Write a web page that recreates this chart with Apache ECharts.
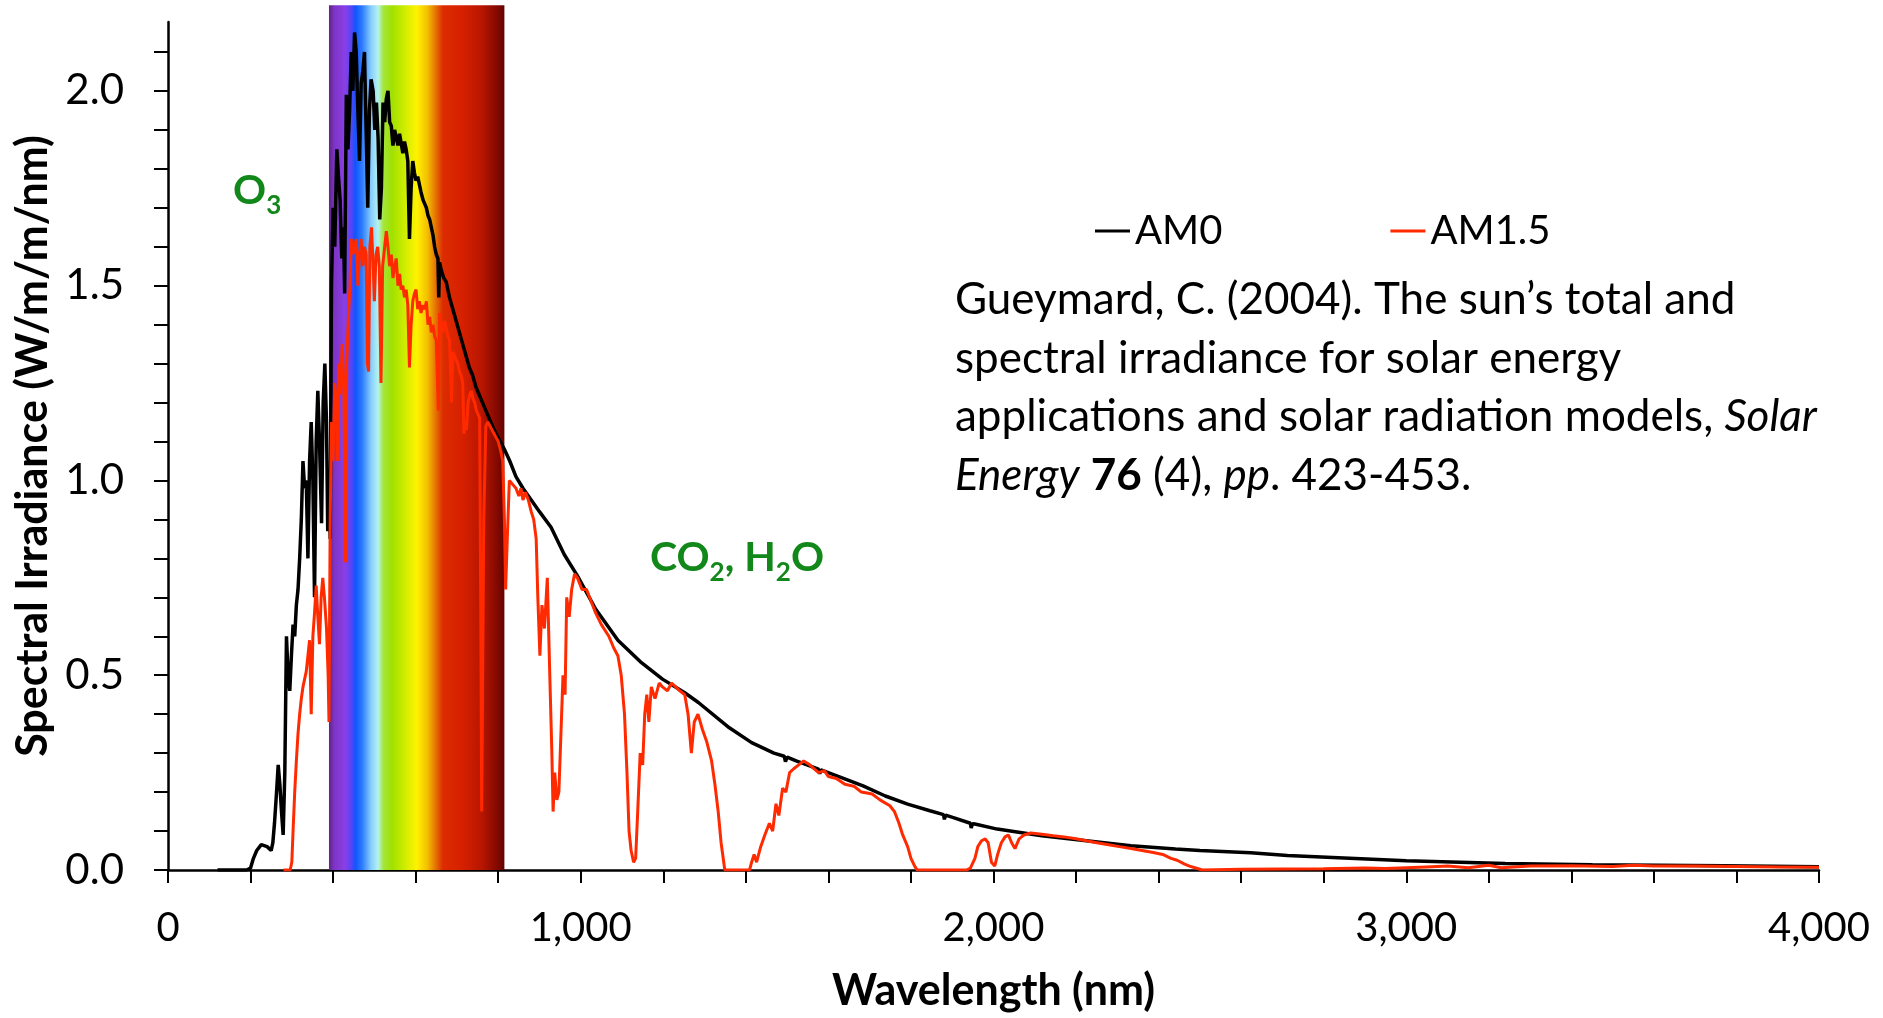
<!DOCTYPE html>
<html>
<head>
<meta charset="utf-8">
<title>Spectral irradiance AM0 / AM1.5</title>
<script src="https://cdn.jsdelivr.net/npm/echarts@6/dist/echarts.min.js"></script>
<style>
  html, body { margin: 0; padding: 0; background: #fff; }
  #chart { width: 1883px; height: 1018px; }
</style>
</head>
<body>
<div id="chart"></div>
<script>
// [wavelength nm, W/m/m/nm]
const am0Spectrum = [
  [120,0],[190,0],[200,0.005],[207,0.03],[215,0.05],[226,0.065],[240,0.06],[250,0.05],
  [254,0.07],[258,0.12],[263,0.2],[267,0.27],[271,0.22],[275,0.15],[279,0.09],[283,0.25],
  [287,0.6],[291,0.5],[295,0.46],[299,0.55],[303,0.63],[307,0.6],[311,0.68],[315,0.72],
  [319,0.8],[323,0.9],[327,1.05],[331,0.98],[335,1.0],[339,0.8],[343,1.05],[347,1.15],
  [351,1.0],[355,0.7],[359,1.1],[363,1.23],[367,1.1],[372,0.89],[376,1.2],[380,1.3],
  [384,1.15],[387,0.87],[390,1.0],[393,0.85],[396,1.5],[400,1.7],[404,1.6],[409,1.85],
  [413,1.78],[417,1.72],[421,1.57],[425,1.65],[428,1.48],[432,1.99],[436,1.85],[440,1.95],
  [444,2.1],[448,2.0],[452,2.15],[456,2.1],[460,1.95],[464,1.82],[468,2.02],[472,2.05],
  [476,2.1],[480,1.9],[484,1.7],[488,1.95],[492,2.03],[497,2.0],[501,1.9],[505,1.97],
  [509,1.88],[513,1.67],[517,1.75],[521,1.97],[525,1.92],[529,1.98],[533,2.0],[537,1.92],
  [541,1.91],[545,1.86],[549,1.9],[553,1.9],[557,1.86],[561,1.89],[565,1.89],[569,1.84],
  [573,1.87],[577,1.85],[581,1.82],[585,1.62],[589,1.75],[593,1.82],[597,1.79],[601,1.77],
  [605,1.78],[609,1.76],[613,1.74],[618,1.72],[622,1.71],[626,1.7],[630,1.68],[634,1.67],
  [638,1.65],[642,1.63],[646,1.6],[650,1.58],[654,1.57],[656,1.47],[658,1.56],[662,1.54],
  [668,1.52],[674,1.51],[682,1.47],[690,1.44],[698,1.41],[706,1.38],[714,1.35],[722,1.32],
  [730,1.29],[738,1.27],[746,1.24],[754,1.22],[762,1.2],[770,1.18],[778,1.16],[786,1.14],
  [795,1.12],[805,1.1],[815,1.08],[828,1.05],[843,1.01],[860,0.98],[880,0.95],[900,0.92],
  [928,0.88],[960,0.81],[992,0.755],[1036,0.67],[1090,0.59],[1144,0.535],[1198,0.49],
  [1252,0.455],[1285,0.43],[1360,0.365],[1414,0.327],[1468,0.3],[1493,0.292],[1496,0.278],
  [1500,0.29],[1522,0.28],[1576,0.259],[1579,0.247],[1582,0.257],[1630,0.238],[1684,0.216],
  [1738,0.19],[1792,0.169],[1846,0.152],[1879,0.142],[1881,0.13],[1884,0.141],[1901,0.135],
  [1944,0.12],[1946,0.108],[1949,0.119],[1955,0.118],[2009,0.105],[2117,0.088],[2225,0.075],
  [2333,0.062],[2441,0.054],[2500,0.05],[2623,0.044],[2712,0.037],[3000,0.024],[3240,0.017],
  [3451,0.0137],[3768,0.011],[4000,0.0085]
];

const am15Spectrum = [
  [280,0],[296,0],[300,0.02],[303,0.1],[307,0.2],[311,0.28],[315,0.35],[319,0.4],
  [323,0.44],[327,0.47],[331,0.49],[335,0.51],[339,0.55],[343,0.59],[347,0.4],[351,0.6],
  [355,0.66],[359,0.73],[363,0.65],[367,0.58],[371,0.7],[375,0.75],[379,0.7],[384,0.62],
  [388,0.5],[390,0.38],[393,0.9],[396,1.15],[400,1.05],[404,1.25],[408,1.2],[411,1.05],
  [414,1.3],[418,1.22],[422,1.35],[426,1.25],[430,0.79],[433,1.3],[437,1.42],[441,1.5],
  [444,1.62],[448,1.58],[452,1.6],[456,1.62],[460,1.5],[464,1.58],[468,1.62],[472,1.55],
  [476,1.6],[480,1.58],[483,1.3],[486,1.28],[489,1.6],[493,1.65],[497,1.55],[500,1.46],
  [504,1.58],[508,1.6],[512,1.55],[516,1.25],[520,1.55],[525,1.6],[529,1.64],[533,1.6],
  [537,1.55],[541,1.58],[545,1.52],[549,1.55],[553,1.57],[557,1.5],[561,1.53],[565,1.49],
  [569,1.5],[573,1.47],[577,1.49],[581,1.45],[585,1.29],[589,1.4],[593,1.46],[597,1.48],
  [601,1.49],[605,1.44],[609,1.46],[613,1.43],[618,1.45],[622,1.44],[626,1.46],[630,1.4],
  [634,1.42],[638,1.38],[642,1.4],[646,1.37],[650,1.36],[655,1.18],[658,1.43],[662,1.4],
  [666,1.38],[670,1.41],[674,1.39],[678,1.37],[682,1.36],[687,1.2],[690,1.33],[694,1.32],
  [698,1.31],[702,1.3],[706,1.28],[710,1.27],[714,1.25],[717,1.12],[720,1.15],[723,1.13],
  [727,1.2],[731,1.22],[735,1.23],[739,1.21],[743,1.2],[747,1.18],[751,1.17],[755,1.16],
  [758,0.6],[760,0.15],[762,0.45],[765,0.9],[770,1.14],[775,1.15],[780,1.14],[785,1.13],
  [790,1.12],[795,1.11],[800,1.1],[805,1.08],[811,1.05],[815,0.9],[818,0.72],[822,0.85],
  [827,1.0],[835,0.99],[843,0.98],[850,0.96],[855,0.98],[860,0.95],[866,0.97],[873,0.95],
  [880,0.92],[886,0.9],[892,0.85],[896,0.7],[901,0.55],[906,0.68],[912,0.62],[919,0.75],
  [925,0.5],[930,0.3],[933,0.15],[937,0.25],[942,0.18],[947,0.2],[952,0.35],[957,0.5],
  [962,0.45],[966,0.7],[972,0.65],[978,0.72],[985,0.76],[992,0.75],[1003,0.72],[1014,0.72],
  [1025,0.69],[1036,0.66],[1050,0.63],[1068,0.6],[1080,0.57],[1090,0.55],[1098,0.5],
  [1106,0.4],[1112,0.25],[1117,0.1],[1122,0.05],[1128,0.02],[1133,0.03],[1138,0.15],
  [1144,0.3],[1150,0.27],[1155,0.4],[1160,0.45],[1165,0.38],[1171,0.47],[1180,0.44],
  [1190,0.48],[1198,0.47],[1210,0.46],[1220,0.48],[1230,0.47],[1240,0.46],[1252,0.45],
  [1260,0.4],[1268,0.3],[1275,0.38],[1284,0.4],[1295,0.36],[1305,0.33],[1317,0.28],
  [1325,0.22],[1333,0.15],[1340,0.07],[1349,0],[1409,0],[1414,0.02],[1420,0.04],[1426,0.02],
  [1436,0.06],[1446,0.09],[1457,0.12],[1465,0.1],[1473,0.17],[1480,0.14],[1489,0.21],
  [1497,0.2],[1506,0.25],[1516,0.26],[1528,0.27],[1540,0.28],[1555,0.27],[1565,0.26],
  [1576,0.25],[1590,0.255],[1600,0.24],[1619,0.235],[1640,0.22],[1662,0.215],[1680,0.2],
  [1706,0.195],[1725,0.18],[1749,0.165],[1760,0.15],[1771,0.12],[1780,0.09],[1792,0.06],
  [1800,0.03],[1809,0.01],[1815,0],[1935,0],[1944,0.005],[1955,0.03],[1962,0.06],[1971,0.075],
  [1980,0.08],[1987,0.07],[1995,0.02],[2003,0.01],[2010,0.04],[2019,0.07],[2028,0.085],
  [2036,0.09],[2044,0.07],[2052,0.055],[2062,0.08],[2074,0.09],[2090,0.095],[2117,0.092],
  [2145,0.088],[2171,0.085],[2200,0.08],[2225,0.075],[2250,0.07],[2279,0.065],[2305,0.06],
  [2333,0.055],[2360,0.05],[2387,0.045],[2410,0.04],[2430,0.03],[2445,0.025],[2463,0.015],
  [2475,0.01],[2490,0.005],[2506,0],[2600,0.002],[2800,0.003],[2900,0.005],[2950,0.004],
  [3000,0.006],[3050,0.008],[3100,0.01],[3150,0.006],[3200,0.012],[3230,0.006],[3300,0.01],
  [3400,0.011],[3500,0.009],[3550,0.012],[3600,0.01],[3700,0.01],[3800,0.009],[3900,0.008],
  [4000,0.007]
];

const xTickValues = [0,200,400,600,800,1000,1200,1400,1600,1800,2000,2200,2400,2600,2800,3000,3200,3400,3600,3800,4000];
const xLabelValues = [0,1000,2000,3000,4000];
const yTickValues = [0,0.1,0.2,0.3,0.4,0.5,0.6,0.7,0.8,0.9,1.0,1.1,1.2,1.3,1.4,1.5,1.6,1.7,1.8,1.9,2.0,2.1];
const yLabelValues = [0,0.5,1.0,1.5,2.0];

// visible band behind the curves: [from nm, to nm, top]
const visibleBand = [[390, 815, 2.22]];

const FONT = 'Lato';
const GREEN = '#12871a';

const chart = echarts.init(document.getElementById('chart'));

const rainbow = [
  { offset: 0.00, color: '#5e2486' },
  { offset: 0.03, color: '#7e34c4' },
  { offset: 0.09, color: '#8a3fe6' },
  { offset: 0.13, color: '#5046f6' },
  { offset: 0.15, color: '#0f55ff' },
  { offset: 0.19, color: '#2f7cff' },
  { offset: 0.24, color: '#86ceff' },
  { offset: 0.28, color: '#b4f2ee' },
  { offset: 0.31, color: '#a4e63a' },
  { offset: 0.36, color: '#a0e000' },
  { offset: 0.44, color: '#d4ee00' },
  { offset: 0.50, color: '#fff200' },
  { offset: 0.56, color: '#f4c000' },
  { offset: 0.61, color: '#e47000' },
  { offset: 0.65, color: '#dc2c00' },
  { offset: 0.76, color: '#d62000' },
  { offset: 0.87, color: '#b81600' },
  { offset: 0.96, color: '#820900' },
  { offset: 1.00, color: '#640200' }
];

const option = {
  animation: false,
  grid: { left: 168, right: 64, top: 22, bottom: 147, containLabel: false },
  legend: {
    data: ['AM0', 'AM1.5'],
    left: 1090,
    top: 206,
    icon: 'rect',
    itemWidth: 35,
    itemHeight: 3,
    itemGap: 168,
    selectedMode: false,
    textStyle: { fontFamily: FONT, fontSize: 40, color: '#000' }
  },
  xAxis: {
    type: 'value',
    min: 0,
    max: 4000,
    name: 'Wavelength (nm)',
    nameLocation: 'middle',
    nameGap: 100,
    nameTextStyle: { fontFamily: FONT, fontSize: 43, fontWeight: 'bold', color: '#000' },
    axisLine: { lineStyle: { color: '#000', width: 2.5 } },
    axisTick: { customValues: xTickValues, length: 13, lineStyle: { color: '#000', width: 2 } },
    axisLabel: {
      customValues: xLabelValues,
      margin: 38,
      fontFamily: FONT,
      fontSize: 40,
      color: '#000',
      formatter: (v) => v.toLocaleString('en-US')
    },
    splitLine: { show: false }
  },
  yAxis: {
    type: 'value',
    min: 0,
    max: 2.177,
    name: 'Spectral Irradiance (W/m/m/nm)',
    nameLocation: 'middle',
    nameGap: 106,
    nameTextStyle: { fontFamily: FONT, fontSize: 43, fontWeight: 'bold', color: '#000' },
    axisLine: { show: true, lineStyle: { color: '#000', width: 2.5 } },
    axisTick: { show: true, customValues: yTickValues, length: 14, lineStyle: { color: '#000', width: 2 } },
    axisLabel: {
      customValues: yLabelValues,
      margin: 44,
      fontFamily: FONT,
      fontSize: 42,
      color: '#000',
      formatter: (v) => v.toFixed(1)
    },
    splitLine: { show: false }
  },
  series: [
    {
      type: 'custom',
      silent: true,
      clip: false,
      z: 1,
      encode: { x: [0, 1], y: 2 },
      data: visibleBand,
      renderItem: function (params, api) {
        const topLeft = api.coord([api.value(0), api.value(2)]);
        const bottomRight = api.coord([api.value(1), 0]);
        return {
          type: 'rect',
          shape: {
            x: topLeft[0],
            y: topLeft[1],
            width: bottomRight[0] - topLeft[0],
            height: bottomRight[1] - topLeft[1]
          },
          style: { fill: new echarts.graphic.LinearGradient(0, 0, 1, 0, rainbow) }
        };
      }
    },
    {
      name: 'AM0',
      type: 'line',
      z: 3,
      showSymbol: false,
      data: am0Spectrum,
      itemStyle: { color: '#000' },
      lineStyle: { color: '#000', width: 3.5 }
    },
    {
      name: 'AM1.5',
      type: 'line',
      z: 4,
      showSymbol: false,
      data: am15Spectrum,
      itemStyle: { color: '#ff2a00' },
      lineStyle: { color: '#ff2a00', width: 3 }
    }
  ],
  graphic: [
    {
      type: 'text',
      left: 233,
      top: 163,
      style: {
        text: 'O{s|3}',
        fontFamily: FONT, fontSize: 41, fontWeight: 'bold', fill: GREEN, lineHeight: 56,
        rich: { s: { fontFamily: FONT, fontSize: 26, fontWeight: 'bold', fill: GREEN, lineHeight: 26, verticalAlign: 'bottom' } }
      }
    },
    {
      type: 'text',
      left: 650,
      top: 530,
      style: {
        text: 'CO{s|2}, H{s|2}O',
        fontFamily: FONT, fontSize: 41, fontWeight: 'bold', fill: GREEN, lineHeight: 56,
        rich: { s: { fontFamily: FONT, fontSize: 26, fontWeight: 'bold', fill: GREEN, lineHeight: 26, verticalAlign: 'bottom' } }
      }
    },
    {
      type: 'text',
      left: 955,
      top: 271,
      style: {
        text: 'Gueymard, C. (2004). The sun\u2019s total and\n' +
              'spectral irradiance for solar energy\n' +
              'applications and solar radiation models, {i|Solar}\n' +
              '{i|Energy} {b|76} (4), {i|pp}. 423-453.',
        fontFamily: FONT, fontSize: 44, fill: '#000', lineHeight: 58.5,
        rich: {
          i: { fontFamily: FONT, fontSize: 44, fontStyle: 'italic', fill: '#000', lineHeight: 58.5 },
          b: { fontFamily: FONT, fontSize: 44, fontWeight: 'bold', fill: '#000', lineHeight: 58.5 }
        }
      }
    }
  ]
};

chart.setOption(option);
</script>
</body>
</html>
